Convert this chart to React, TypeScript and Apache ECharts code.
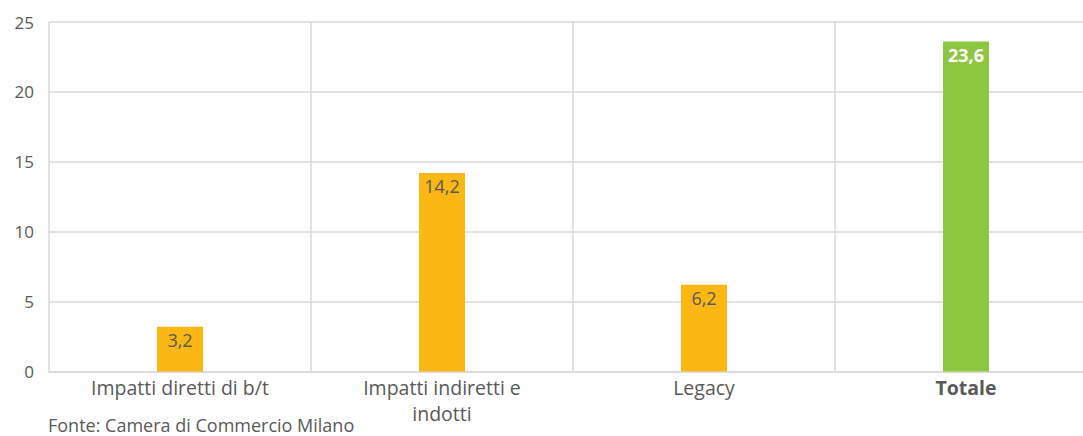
import React, { useEffect, useRef } from "react";
import * as echarts from "echarts";

const categories = ["Impatti diretti di b/t", "Impatti indiretti e\nindotti", "Legacy", "Totale"];
const values = [3.2, 14.2, 6.2, 23.6];
const barColors = ["#FBB713", "#FBB713", "#FBB713", "#8DC63F"];
const yTicks = { min: 0, max: 25, interval: 5 };
const sourceText = "Fonte: Camera di Commercio Milano";

export default function App() {
  const ref = useRef<HTMLDivElement>(null);
  useEffect(() => {
    document.body.style.margin = "0";
    const chart = echarts.init(ref.current!, null, { renderer: "svg" });
    const font = "'Open Sans', 'Noto Sans', sans-serif";
    chart.setOption({
      animation: false,
      grid: { left: 49, top: 22, right: 0, bottom: 64.5, containLabel: false, outerBoundsMode: "none" },
      xAxis: {
        type: "category",
        data: categories,
        axisLine: { show: true, lineStyle: { color: "#D9D9D9", width: 1.5 } },
        axisTick: { show: false },
        splitLine: { show: true, lineStyle: { color: "#D9D9D9", width: 1.5 } },
        axisLabel: {
          color: "#595959",
          fontFamily: font,
          fontSize: 19.5,
          lineHeight: 26,
          margin: 3,
          interval: 0,
          formatter: (v: string) => (v === "Totale" ? "{b|" + v + "}" : v),
          rich: { b: { fontWeight: "bold", fontSize: 19.5, color: "#595959", fontFamily: font } },
        },
      },
      yAxis: {
        type: "value",
        min: yTicks.min,
        max: yTicks.max,
        interval: yTicks.interval,
        axisLine: { show: false },
        axisTick: { show: false },
        splitLine: { show: true, lineStyle: { color: "#D9D9D9", width: 1.5 } },
        axisLabel: { color: "#595959", fontFamily: font, fontSize: 17, margin: 15 },
      },
      series: [
        {
          type: "bar",
          barWidth: 46,
          data: values.map((v, i) => ({
            value: v,
            itemStyle: { color: barColors[i] },
            label:
              i === values.length - 1
                ? { color: "#FFFFFF", fontWeight: "bold" }
                : { color: "#595959", fontWeight: "normal" },
          })),
          label: {
            show: true,
            position: "insideTop",
            distance: 4,
            fontFamily: font,
            fontSize: 18,
            formatter: (p: any) => String(p.value).replace(".", ","),
          },
        },
      ],
      graphic: [
        {
          type: "text",
          left: 48,
          top: 416,
          style: { text: sourceText, fill: "#595959", font: "18px 'Open Sans', sans-serif" },
        },
      ],
    });
    return () => chart.dispose();
  }, []);
  return (
    <div style={{ width: 1083, height: 436, overflow: "hidden", position: "relative" }}>
      <div ref={ref} style={{ width: 1097, height: 436 }} />
    </div>
  );
}
